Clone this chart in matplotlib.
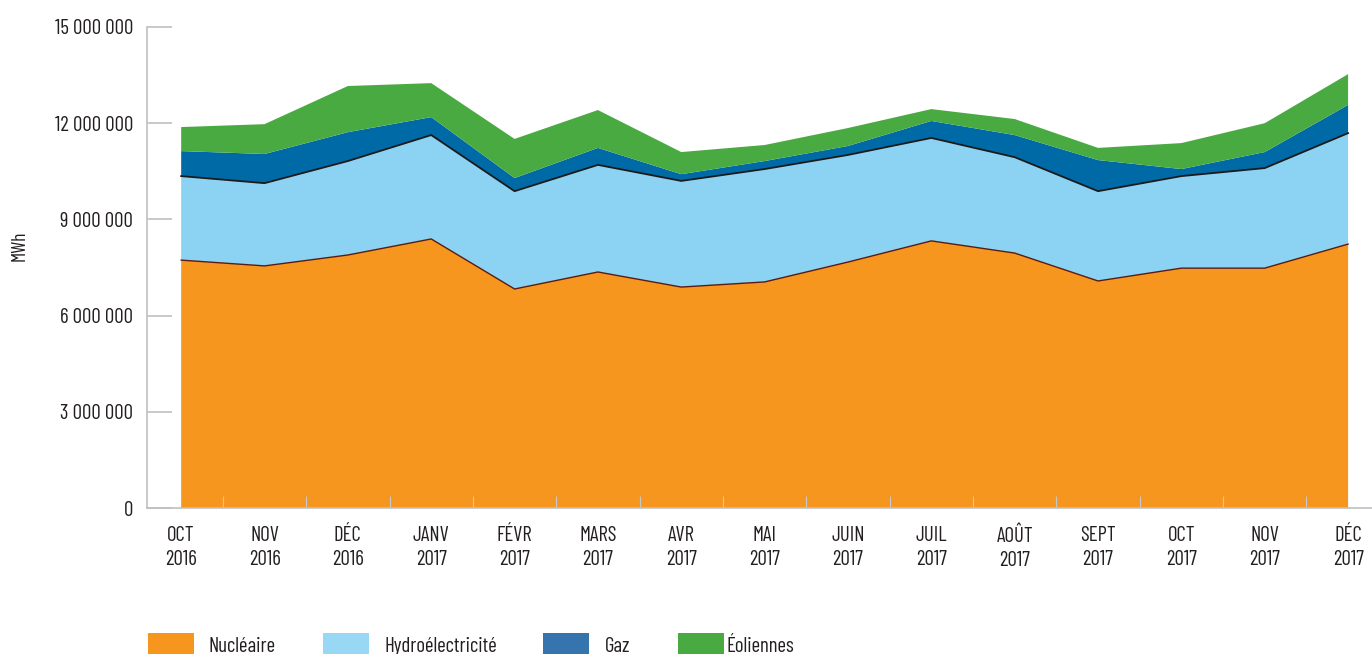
import matplotlib
matplotlib.use("Agg")
import matplotlib.pyplot as plt
from matplotlib.patches import Rectangle
from matplotlib.ticker import FuncFormatter, FixedLocator
import numpy as np

plt.rcParams['font.family'] = ['Barlow Condensed', 'Roboto Condensed', 'DejaVu Sans']

months = ["OCT\n2016", "NOV\n2016", "DÉC\n2016", "JANV\n2017", "FÉVR\n2017", "MARS\n2017",
          "AVR\n2017", "MAI\n2017", "JUIN\n2017", "JUIL\n2017", "AOÛT\n2017", "SEPT\n2017",
          "OCT\n2017", "NOV\n2017", "DÉC\n2017"]

# MWh (millions)
nucleaire = [7.73, 7.55, 7.89, 8.39, 6.83, 7.36, 6.89, 7.05, 7.67, 8.33, 7.95, 7.08, 7.48, 7.48, 8.23]
hydro     = [2.62, 2.58, 2.93, 3.24, 3.05, 3.34, 3.31, 3.52, 3.34, 3.21, 2.99, 2.80, 2.87, 3.12, 3.46]
gaz       = [0.78, 0.91, 0.90, 0.56, 0.41, 0.53, 0.21, 0.25, 0.28, 0.53, 0.69, 0.97, 0.22, 0.50, 0.88]
eoliennes = [0.75, 0.93, 1.44, 1.06, 1.22, 1.18, 0.69, 0.50, 0.56, 0.37, 0.50, 0.38, 0.81, 0.90, 0.96]

labels = ["Nucléaire", "Hydroélectricité", "Gaz", "Éoliennes"]
colors = ["#F7961F", "#8CD2F3", "#006AA7", "#4AAA42"]
legend_colors = ["#F7961F", "#99D8F5", "#3574AC", "#4AAA42"]
text_col = "#231F20"
fs = 15

x = np.arange(len(months))
series = [np.array(s) * 1e6 for s in (nucleaire, hydro, gaz, eoliennes)]

fig = plt.figure(figsize=(13.72, 6.54), dpi=100)
ax = fig.add_axes([147/1372, 146/654, 1 - 147/1372, 481/654])

ax.stackplot(x, *series, colors=colors, linewidth=0)
cum = np.cumsum(series, axis=0)
ax.plot(x, cum[0], color="#5B1A10", lw=1.0)
ax.plot(x, cum[1], color="#1a1a1a", lw=1.3)

ax.set_xlim(-0.41, 14.287)
ax.set_ylim(0, 15e6)

for s in ["top", "right"]:
    ax.spines[s].set_visible(False)
for s in ["left", "bottom"]:
    ax.spines[s].set_color("#C0C0C0")
    ax.spines[s].set_linewidth(1.2)

ax.set_yticks(np.arange(0, 15e6 + 1, 3e6))
ax.yaxis.set_major_formatter(FuncFormatter(lambda v, p: f"{int(v):,}".replace(",", " ")))
ax.tick_params(axis="y", direction="in", length=18, width=1.2, color="#C0C0C0",
               pad=10, labelsize=fs, labelcolor=text_col)

ax.set_xticks(x)
ax.set_xticklabels(months, linespacing=1.35)
ax.xaxis.set_minor_locator(FixedLocator(x[:-1] + 0.5))
ax.tick_params(axis="x", which="major", length=0, pad=13, labelsize=fs, labelcolor=text_col)
ax.tick_params(axis="x", which="minor", direction="in", length=9, width=0.8, color="#C8C8C8")

ax.set_ylabel("MWh", fontsize=14, color=text_col)
ax.yaxis.set_label_coords(-0.097, 0.545)

# legend
W, H = 1372, 654
patch_x = [148, 323, 543, 678]
text_x = [209, 384, 605, 726]
for px, tx, c, lab in zip(patch_x, text_x, legend_colors, labels):
    fig.patches.append(Rectangle((px / W, 0), 46 / W, 21 / H, transform=fig.transFigure,
                                 color=c, lw=0))
    fig.text(tx / W, 8 / H, lab, fontsize=fs, color=text_col, va="center", ha="left")

fig.savefig("out.png", dpi=100)
